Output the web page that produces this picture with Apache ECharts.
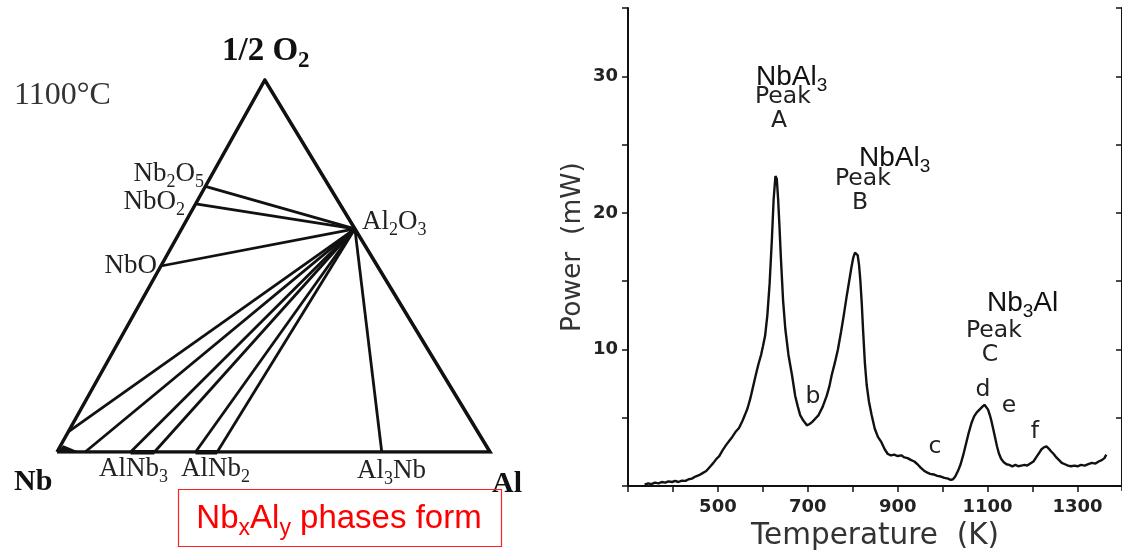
<!DOCTYPE html>
<html><head><meta charset="utf-8">
<script src="https://cdn.jsdelivr.net/npm/echarts@6/dist/echarts.min.js"></script>
<style>html,body{margin:0;padding:0;background:#fff}#c{width:1122px;height:556px}</style>
</head><body><div id="c"></div>
<script>
// ---------- Ternary diagram data (compositions as [xAl, xO] mole fractions) ----------
const ternaryCorners = [[0, 0], [1, 0], [0, 1]];           // Nb, Al, O
const niobiumOxidesXO = [0.714, 0.667, 0.5];              // Nb2O5, NbO2, NbO on Nb–O edge
const aluminaComp = [0.4, 0.6];                           // Al2O3 on Al–O edge
const nbSideTieXO = [0.054];                              // tie-line end on Nb–O edge near Nb
const nbAlTieXAl = [0.065, 0.17, 0.225, 0.32, 0.37, 0.75]; // tie-line ends on Nb–Al edge
const nbCornerField = [[0, 0], [0.052, 0], [0.006, 0.018]];
const thickBaseSegments = [[0.17, 0.225], [0.32, 0.37]];

// ---------- DSC curve data ----------
const dscTemp = [337,345,352,360,368,375,383,390,398,405,412,420,428,435,442,450,458,466,474,482,490,497,503,510,518,525,532,540,547,555,560,566,572,577,584,590,596,600,605,610,615,620,624,628,631,634,637,640,645,650,657,665,672,678,683,690,698,704,710,717,724,733,742,748,753,760,767,774,780,786,792,797,801,805,808,811,814,817,820,823,827,831,836,842,849,856,864,871,878,885,892,900,908,915,922,930,937,944,951,958,965,972,980,988,996,1004,1012,1018,1023,1028,1034,1040,1046,1052,1058,1064,1070,1076,1082,1088,1093,1097,1101,1105,1109,1113,1117,1121,1125,1130,1136,1142,1148,1155,1162,1168,1175,1182,1188,1195,1202,1208,1214,1220,1226,1231,1236,1241,1247,1253,1259,1265,1272,1279,1286,1293,1300,1308,1316,1324,1332,1340,1347,1354,1360,1364];
const dscPower = [0.1,0.2,0.15,0.25,0.2,0.3,0.25,0.35,0.3,0.38,0.3,0.4,0.38,0.5,0.55,0.7,0.8,0.95,1.1,1.4,1.7,2.0,2.2,2.6,3.0,3.3,3.6,4.0,4.25,4.8,5.2,5.7,6.4,7.1,8.1,8.9,9.6,10.2,11.0,12.5,14.8,18.0,21.0,22.7,22.5,21.0,19.0,16.8,13.6,11.5,9.6,8.1,6.6,5.8,5.2,4.8,4.45,4.55,4.7,4.95,5.2,5.8,6.6,7.3,8.1,9.0,10.0,11.3,12.5,13.8,15.0,16.0,16.7,17.1,17.15,16.9,16.2,15.0,13.4,11.4,9.0,7.4,6.2,5.2,4.2,3.6,3.2,2.7,2.35,2.25,2.3,2.2,2.25,2.1,2.05,1.9,1.8,1.6,1.35,1.15,1.0,0.9,0.85,0.75,0.7,0.6,0.55,0.45,0.5,0.7,1.1,1.6,2.3,3.1,3.9,4.6,5.1,5.4,5.6,5.8,5.95,5.9,5.6,5.2,4.7,4.1,3.5,2.9,2.4,2.0,1.75,1.6,1.55,1.45,1.55,1.45,1.5,1.55,1.5,1.65,1.8,2.1,2.4,2.7,2.85,2.9,2.75,2.55,2.35,2.1,1.9,1.7,1.6,1.5,1.45,1.5,1.45,1.55,1.5,1.6,1.7,1.65,1.8,1.9,2.05,2.3];
const xTickLabels = [500, 700, 900, 1100, 1300];
const yTickLabels = [10, 20, 30];

// ---------- helpers ----------
const APEX_X = 0.48; // horizontal position of O apex in the drawing
const toXY = c => [c[0] + c[1] * APEX_X, c[1]];

const SERIF = 'Liberation Serif', SANS = 'Liberation Sans', GOTH = 'DejaVu Sans';

function richText(x, y, parts, opt) {
  const size = opt.size, sub = opt.sub || Math.round(size * 0.68);
  const base = {fontSize: size, fontFamily: opt.family, fontWeight: opt.weight || 'normal', fill: opt.color, lineHeight: Math.round(size * 1.3), verticalAlign: 'middle'};
  const subS = {fontSize: sub, fontFamily: opt.family, fontWeight: opt.weight || 'normal', fill: opt.color, lineHeight: Math.round(sub * 0.95), verticalAlign: 'bottom'};
  const text = parts.map(p => (p[1] ? '{s|' : '{n|') + p[0] + '}').join('');
  return {type: 'text', x: x, y: y, silent: true,
    style: {text: text, align: opt.align || 'left', verticalAlign: 'middle', rich: {n: base, s: subS}, fill: opt.color}};
}

const chart = echarts.init(document.getElementById('c'), null, {renderer: 'canvas'});

const al = toXY(aluminaComp);
const tieLines = [];
niobiumOxidesXO.forEach(xo => tieLines.push({coords: [toXY([0, xo]), al]}));
nbSideTieXO.forEach(xo => tieLines.push({coords: [toXY([0, xo]), al]}));
nbAlTieXAl.forEach(xa => tieLines.push({coords: [toXY([xa, 0]), al]}));

const triangle = [ternaryCorners[0], ternaryCorners[1], ternaryCorners[2], ternaryCorners[0]].map(toXY);

const serifL = {size: 27, family: SERIF, color: '#222'};
const gothL = {size: 23.5, family: GOTH, color: '#222'};
const arialL = {size: 28, sub: 19, family: SANS, color: '#111'};

const graphics = [
  richText(222, 51, [['1/2 O'], ['2', 1]], {size: 33, sub: 23, family: SERIF, weight: 'bold', color: '#111'}),
  richText(14, 96, [['1100°C']], {size: 32, family: SERIF, color: '#333'}),
  richText(204, 174, [['Nb'], ['2', 1], ['O'], ['5', 1]], Object.assign({align: 'right'}, serifL)),
  richText(185, 202, [['NbO'], ['2', 1]], Object.assign({align: 'right'}, serifL)),
  richText(157, 266, [['NbO']], Object.assign({align: 'right'}, serifL)),
  richText(362, 222, [['Al'], ['2', 1], ['O'], ['3', 1]], serifL),
  richText(14, 482, [['Nb']], {size: 30, family: SERIF, weight: 'bold', color: '#111'}),
  richText(492, 484, [['Al']], {size: 30, family: SERIF, weight: 'bold', color: '#111'}),
  richText(99, 469, [['AlNb'], ['3', 1]], serifL),
  richText(181, 469, [['AlNb'], ['2', 1]], serifL),
  richText(357, 471, [['Al'], ['3', 1], ['Nb']], serifL),
  {type: 'rect', silent: true, shape: {x: 178.5, y: 489.5, width: 323, height: 57}, style: {fill: 'none', stroke: '#ff2020', lineWidth: 1.2}},
  richText(339, 519, [['Nb'], ['x', 1], ['Al'], ['y', 1], [' phases form']], {size: 33, sub: 23, family: SANS, color: '#ff0000', align: 'center'}),
  // DSC annotations
  richText(756, 77, [['NbAl'], ['3', 1]], arialL),
  richText(755, 97, [['Peak']], gothL),
  richText(779, 121, [['A']], Object.assign({align: 'center'}, gothL)),
  richText(859, 158, [['NbAl'], ['3', 1]], arialL),
  richText(835, 179, [['Peak']], gothL),
  richText(860, 203, [['B']], Object.assign({align: 'center'}, gothL)),
  richText(987, 303, [['Nb'], ['3', 1], ['Al']], arialL),
  richText(966, 331, [['Peak']], gothL),
  richText(990, 355, [['C']], Object.assign({align: 'center'}, gothL)),
  richText(983, 390, [['d']], Object.assign({align: 'center'}, gothL)),
  richText(1009, 406, [['e']], Object.assign({align: 'center'}, gothL)),
  richText(1035, 432, [['f']], Object.assign({align: 'center'}, gothL)),
  richText(935, 447, [['c']], Object.assign({align: 'center'}, gothL)),
  richText(813, 397, [['b']], Object.assign({align: 'center'}, gothL))
];

const axisBlack = {lineStyle: {color: '#111', width: 2}};

chart.setOption({
  animation: false,
  backgroundColor: '#fff',
  grid: [
    {left: 57, top: 80, width: 433, height: 372},
    {left: 628, top: 8, width: 498, height: 484}
  ],
  xAxis: [
    {gridIndex: 0, type: 'value', min: 0, max: 1, show: false},
    {gridIndex: 1, type: 'value', min: 300, max: 1399, interval: 100,
      axisLine: axisBlack, axisTick: {length: 6, lineStyle: {color: '#111', width: 1.5}},
      splitLine: {show: false}, axisLabel: {margin: 12, color: '#222', fontFamily: GOTH, fontSize: 18, fontWeight: 'bold', showMaxLabel: false,
        formatter: v => xTickLabels.includes(v) ? String(v) : ''},
      name: 'Temperature  (K)', nameLocation: 'middle', nameGap: 31,
      nameTextStyle: {fontFamily: GOTH, fontSize: 29.5, color: '#333'}},
    {gridIndex: 1, type: 'value', position: 'top', min: 300, max: 1399, interval: 100,
      axisLine: axisBlack, axisTick: {inside: true, length: 5, lineStyle: {color: '#111', width: 1.5}},
      axisLabel: {show: false}, splitLine: {show: false}}
  ],
  yAxis: [
    {gridIndex: 0, type: 'value', min: 0, max: 1, show: false},
    {gridIndex: 1, type: 'value', min: 0, max: 35, interval: 5,
      axisLine: axisBlack, axisTick: {length: 6, lineStyle: {color: '#111', width: 1.5}},
      splitLine: {show: false}, axisLabel: {margin: 10, color: '#222', fontFamily: GOTH, fontSize: 18, fontWeight: 'bold',
        formatter: v => yTickLabels.includes(v) ? String(v) : ''},
      name: 'Power  (mW)', nameLocation: 'middle', nameGap: 41, nameRotate: 90,
      nameTextStyle: {fontFamily: GOTH, fontSize: 26.5, color: '#333'}},
    {gridIndex: 1, type: 'value', position: 'right', min: 0, max: 35, interval: 5,
      axisLine: axisBlack, axisTick: {inside: true, length: 6, lineStyle: {color: '#111', width: 1.5}},
      axisLabel: {show: false}, splitLine: {show: false}}
  ],
  series: [
    {type: 'custom', xAxisIndex: 0, yAxisIndex: 0, silent: true,
      renderItem: (params, api) => ({type: 'polygon', shape: {points: nbCornerField.map(c => api.coord(toXY(c)))}, style: {fill: '#111'}}),
      data: [0]},
    {type: 'lines', coordinateSystem: 'cartesian2d', xAxisIndex: 0, yAxisIndex: 0, silent: true,
      lineStyle: {color: '#111', width: 2.8, opacity: 1}, data: tieLines},
    {type: 'lines', coordinateSystem: 'cartesian2d', xAxisIndex: 0, yAxisIndex: 0, silent: true,
      lineStyle: {color: '#111', width: 5, opacity: 1},
      data: thickBaseSegments.map(s => ({coords: [toXY([s[0], 0]), toXY([s[1], 0])]}))},
    {type: 'line', xAxisIndex: 0, yAxisIndex: 0, silent: true, symbol: 'none',
      lineStyle: {color: '#111', width: 3.5, join: 'miter'}, data: triangle},
    {type: 'line', xAxisIndex: 1, yAxisIndex: 1, silent: true, symbol: 'none',
      lineStyle: {color: '#111', width: 2.4}, data: dscTemp.map((t, i) => [t, dscPower[i]])}
  ],
  graphic: graphics
});
</script></body></html>
